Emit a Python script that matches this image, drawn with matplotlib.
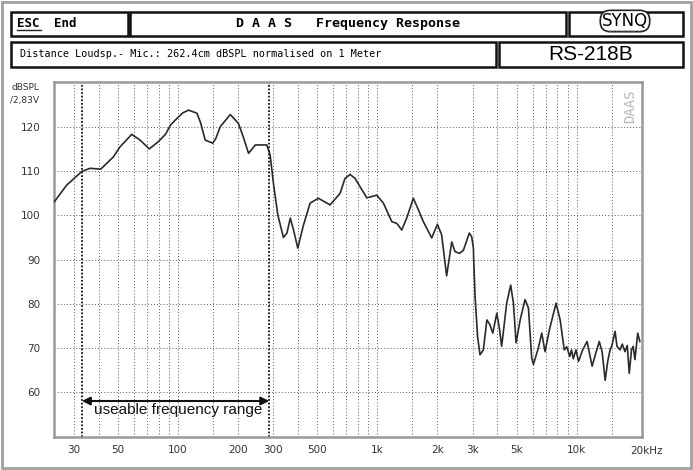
import matplotlib.pyplot as plt
import matplotlib.ticker as mticker
from matplotlib.patches import Rectangle

# frequency response (Hz, dBSPL)
freq = [24, 27.7, 33, 36.3, 41, 47.5, 51.3, 58.7, 64.6, 71.9, 80, 86.6, 91.8, 98.7, 106, 113, 124.5,
        130, 137, 149.6, 155, 162.8, 183, 201, 212, 226, 244.5, 279, 290, 302, 317, 338, 352, 366, 380, 399,
        426, 460, 506, 579, 650, 688, 730, 773, 885, 993, 1072, 1181, 1251, 1325, 1403,
        1515, 1605, 1700, 1873, 2000, 2100, 2225, 2360, 2450, 2580, 2700, 2890, 2970, 3030,
        3040, 3090, 3180, 3270, 3400, 3540, 3670, 3790, 3970, 4090, 4200, 4450, 4660, 4810,
        4960, 5200, 5500, 5720, 5940, 6060, 6420, 6670, 6930, 7290, 7870, 8250, 8650, 8900, 9220,
        9400, 9600, 9900, 10200, 10700, 11260, 11930, 12400, 12960, 13400, 13870, 14300, 14680,
        15000, 15550, 15900, 16470, 16900, 17430, 17900, 18320, 18800, 19170,
        19560, 20200, 20700]
spl = [103.1, 106.9, 110, 110.7, 110.5, 113.3, 115.6, 118.4, 117.1, 115.1, 116.8, 118.4, 120.5, 122, 123.3, 123.9, 123.2,
       121, 117.1, 116.4, 117.5, 120.1, 122.9, 120.9, 118, 114.1, 116, 116, 113.7, 106.9, 100.1, 95, 96, 99.4, 96.7, 92.6,
       97.8, 102.8, 103.9, 102.4, 105, 108.4, 109.3, 108.4, 104, 104.6, 102.8, 98.6, 98.2, 96.7, 99.4,
       103.9, 101.3, 98.6, 94.9, 98, 95.6, 86.3, 94, 91.8, 91.4, 92.1, 96, 95.2, 92.6,
       90, 81.6, 72.5, 68.4, 69.5, 76.3, 75.2, 73.3, 77.8, 74.4, 70.3, 80.1, 84.2, 80.1,
       71.1, 76.3, 80.9, 79, 67.7, 66.2, 70, 73.3, 69.1, 74.1, 80.1, 76.3, 69.5, 70.2, 68,
       69.5, 67.5, 69.5, 66.9, 69.5, 71.4, 65.8, 68.5, 71.4, 69, 62.6, 67, 69.5,
       70.5, 73.7, 70.3, 69.5, 70.8, 69.1, 70.5, 64.2, 69.5, 70.3,
       67.3, 73.3, 71.4]

grid_freqs = [30, 40, 50, 60, 70, 80, 90, 100, 150, 200, 300, 400, 500, 600, 700, 800, 900,
              1000, 1500, 2000, 3000, 4000, 5000, 6000, 7000, 8000, 9000, 10000, 15000]
tick_freqs = [30, 50, 100, 200, 300, 500, 1000, 2000, 3000, 5000, 10000]
tick_labels = ["30", "50", "100", "200", "300", "500", "1k", "2k", "3k", "5k", "10k"]
db_ticks = [60, 70, 80, 90, 100, 110, 120]
range_lo, range_hi = 33, 287

W, H = 693, 470
fig = plt.figure(figsize=(W / 100, H / 100), dpi=100)


def box(x0, y0, x1, y1, **kw):
    fig.add_artist(Rectangle((x0 / W, 1 - y1 / H), (x1 - x0) / W, (y1 - y0) / H,
                             transform=fig.transFigure, fill=False, **kw))


def ftext(x, y, s, **kw):
    fig.text(x / W, 1 - y / H, s, **kw)


# outer frame
box(2, 2, 691, 468, edgecolor="#a0a0a0", lw=2)

# header boxes
for b in [(11, 12.5, 128, 35.5), (130, 12.5, 566, 35.5), (569, 12.5, 683, 35.5),
          (11, 42, 496, 66.5), (499, 42, 683, 66.5)]:
    box(*b, edgecolor="#111111", lw=1.8)

ftext(17, 23.5, "ESC", family="DejaVu Sans Mono", fontsize=9, fontweight="bold", va="center")
fig.add_artist(plt.Line2D([17 / W, 41 / W], [1 - 29.5 / H, 1 - 29.5 / H], color="#222", lw=1))
ftext(54, 23.5, "End", family="DejaVu Sans Mono", fontsize=9, fontweight="bold", va="center")
ftext(348, 23.5, "D A A S   Frequency Response", family="DejaVu Sans Mono", fontsize=9.5,
      fontweight="bold", ha="center", va="center")
ftext(625, 21, "SYNQ", family="DejaVu Sans", fontsize=12, ha="center", va="center",
      bbox=dict(boxstyle="round,pad=0.1,rounding_size=0.6", fc="white", ec="#222", lw=1.2))
ftext(625, 32, "AUDIO RESEARCH", family="DejaVu Sans", fontsize=2.5, color="#777",
      ha="center", va="center")
ftext(20.5, 54, "Distance Loudsp.- Mic.: 262.4cm dBSPL normalised on 1 Meter",
      family="DejaVu Sans Mono", fontsize=7.3, va="center")
ftext(591, 54.5, "RS-218B", family="Liberation Sans", fontsize=15, ha="center", va="center")

# plot area
ax = fig.add_axes([54.3 / W, 1 - 436.7 / H, (641.7 - 54.3) / W, (436.7 - 81.7) / H])
ax.set_xscale("log")
ax.set_xlim(24, 21150)
ax.set_ylim(49.8, 130.35)

for f in grid_freqs:
    ax.axvline(f, color="#555555", lw=0.7, ls=(0, (1, 2.2)), zorder=1)
for d in db_ticks:
    ax.axhline(d, color="#555555", lw=0.7, ls=(0, (1, 2.2)), zorder=1)
for f in (range_lo, range_hi):
    ax.axvline(f, color="#111111", lw=1.3, ls=(0, (1, 1)), zorder=2)

ax.plot(freq, spl, color="#2a2a2a", lw=1.2, zorder=3)

ax.annotate("", xy=(range_lo, 57.9), xytext=(range_hi, 57.9),
            arrowprops=dict(arrowstyle="<|-|>", color="#111", lw=1.5,
                            mutation_scale=12, shrinkA=0, shrinkB=0))
ax.text(100, 55.8, "useable frequency range", family="Liberation Sans", fontsize=11,
        ha="center", va="center", color="#111")

ax.text(0.98, 0.93, "DAAS", transform=ax.transAxes, rotation=90, family="DejaVu Sans Mono",
        fontsize=10, color="#b8b8b8", ha="center", va="center")

ax.xaxis.set_major_locator(mticker.FixedLocator(tick_freqs))
ax.xaxis.set_major_formatter(mticker.FixedFormatter(tick_labels))
ax.xaxis.set_minor_locator(mticker.NullLocator())
ax.set_yticks(db_ticks)
ax.tick_params(axis="both", length=0, labelsize=7.5, labelcolor="#333333")
ax.tick_params(axis="x", pad=6)
ax.tick_params(axis="y", pad=10)
ax.annotate("20kHz", xy=(20000, 0), xycoords=("data", "axes fraction"),
            xytext=(-5, -6.5), textcoords="offset points", fontsize=7.5, color="#333333",
            ha="left", va="top", annotation_clip=False)

for s in ax.spines.values():
    s.set_color("#999999")
    s.set_linewidth(1.8)

ftext(39.5, 88, "dBSPL", fontsize=6.5, color="#333333", ha="right", va="center")
ftext(39.5, 100, "/2,83V", fontsize=6.5, color="#333333", ha="right", va="center")

fig.savefig("out.png", dpi=100)
